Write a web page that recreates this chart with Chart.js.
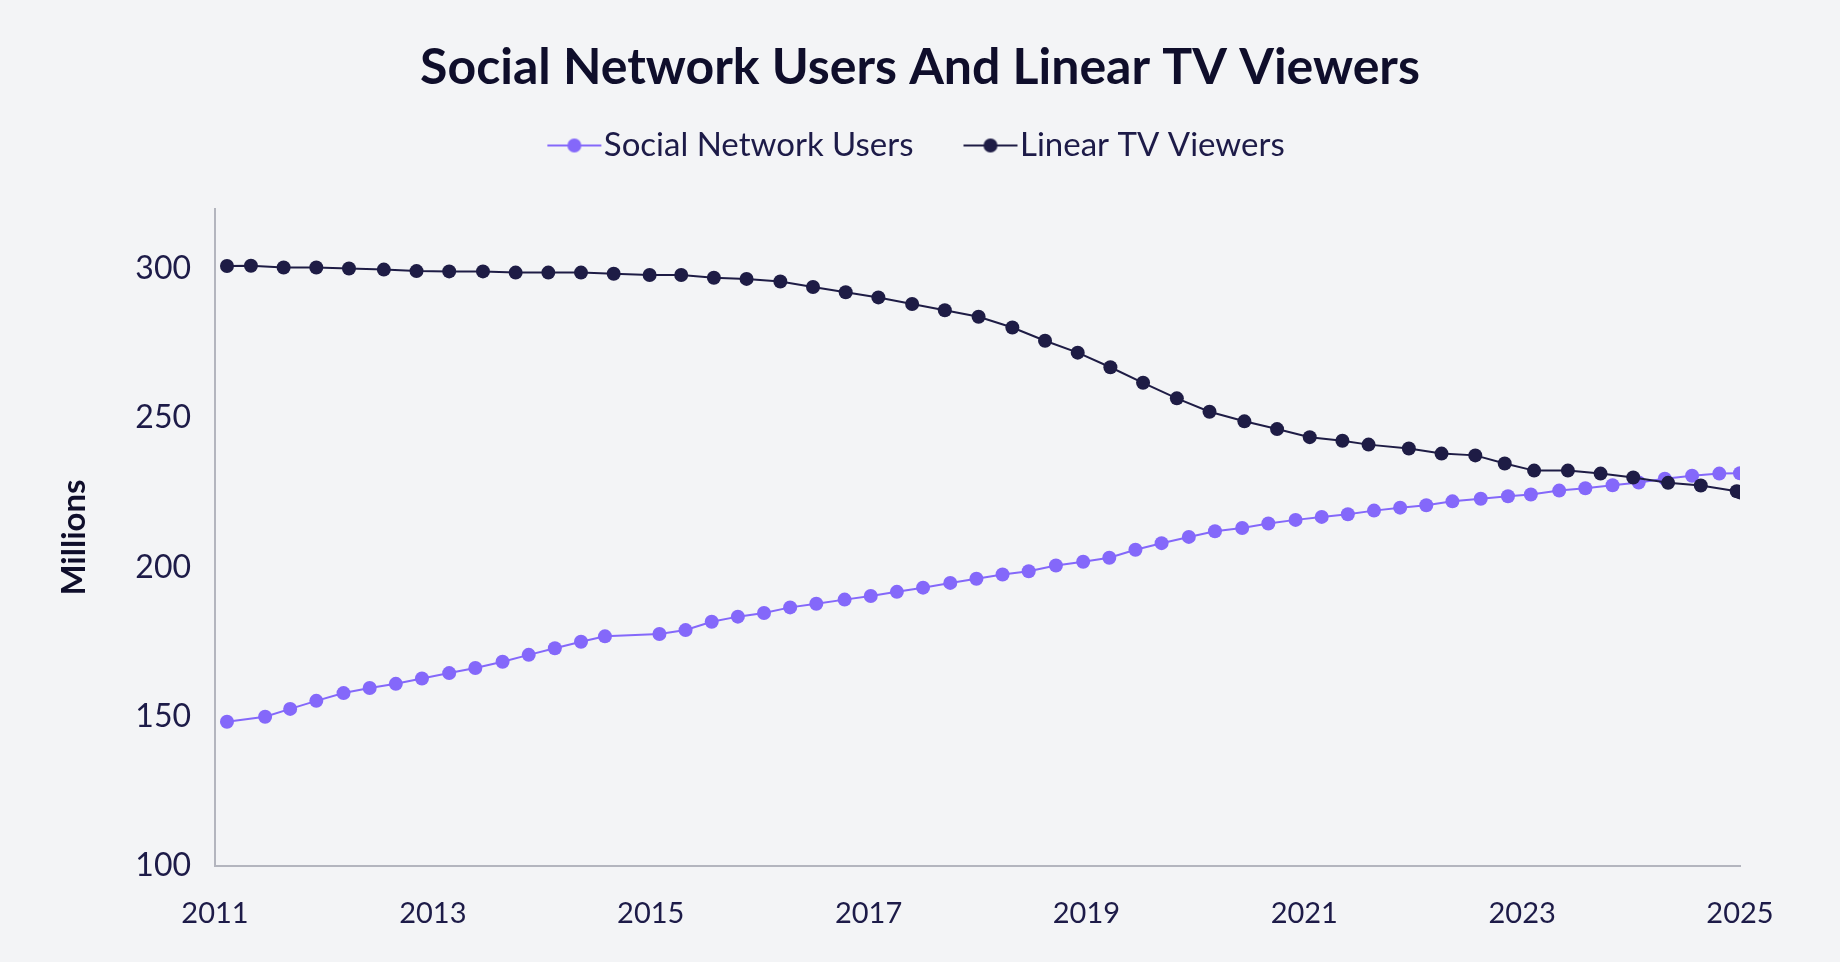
<!DOCTYPE html>
<html>
<head>
<meta charset="utf-8">
<script src="https://cdn.jsdelivr.net/npm/chart.js@4.4.0/dist/chart.umd.min.js"></script>
<style>
  html, body { margin: 0; padding: 0; background: #f3f4f6; }
  #wrap { width: 1840px; height: 962px; }
</style>
</head>
<body>
<div id="wrap"><canvas id="line-chart" width="1840" height="962"></canvas></div>
<script>
// values (decimal years, millions)
const socialYears = [2011.11, 2011.46, 2011.69, 2011.93, 2012.18, 2012.42, 2012.66, 2012.90, 2013.15, 2013.39,
  2013.64, 2013.88, 2014.12, 2014.36, 2014.58, 2015.08, 2015.32, 2015.56, 2015.80, 2016.04,
  2016.28, 2016.52, 2016.78, 2017.02, 2017.26, 2017.50, 2017.75, 2017.99, 2018.23, 2018.47,
  2018.72, 2018.97, 2019.21, 2019.45, 2019.69, 2019.94, 2020.18, 2020.43, 2020.67, 2020.92,
  2021.16, 2021.40, 2021.64, 2021.88, 2022.12, 2022.36, 2022.62, 2022.87, 2023.08, 2023.34,
  2023.58, 2023.83, 2024.07, 2024.31, 2024.56, 2024.81, 2025.0];
const socialValues = [148.3, 150.0, 152.6, 155.3, 157.9, 159.6, 161.0, 162.8, 164.6, 166.3,
  168.4, 170.7, 172.9, 175.1, 176.9, 177.7, 179.0, 181.8, 183.5, 184.7,
  186.6, 187.8, 189.2, 190.4, 191.8, 193.2, 194.8, 196.2, 197.6, 198.7,
  200.6, 201.9, 203.2, 205.9, 208.1, 210.2, 212.1, 213.2, 214.7, 215.9,
  216.9, 217.8, 219.0, 220.0, 220.8, 222.1, 223.0, 223.8, 224.4, 225.7,
  226.5, 227.5, 228.4, 229.7, 230.7, 231.4, 231.5];

const tvYears = [2011.11, 2011.33, 2011.63, 2011.93, 2012.23, 2012.55, 2012.85, 2013.15, 2013.46, 2013.76,
  2014.06, 2014.36, 2014.66, 2014.99, 2015.28, 2015.58, 2015.88, 2016.19, 2016.49, 2016.79,
  2017.09, 2017.40, 2017.70, 2018.01, 2018.32, 2018.62, 2018.92, 2019.22, 2019.52, 2019.83,
  2020.13, 2020.45, 2020.75, 2021.05, 2021.35, 2021.59, 2021.96, 2022.26, 2022.57, 2022.84,
  2023.11, 2023.42, 2023.72, 2024.02, 2024.34, 2024.64, 2024.97, 2025.0];
const tvValues = [300.9, 301.0, 300.4, 300.4, 300.1, 299.7, 299.2, 299.1, 299.1, 298.7,
  298.7, 298.7, 298.3, 297.9, 297.9, 297.0, 296.6, 295.7, 293.9, 292.1,
  290.4, 288.2, 286.1, 283.9, 280.3, 275.9, 271.9, 267.0, 261.8, 256.6,
  252.1, 248.9, 246.3, 243.6, 242.4, 241.1, 239.8, 238.1, 237.5, 234.8,
  232.4, 232.4, 231.4, 230.1, 228.3, 227.4, 225.5, 225.1];

const xTicks = [2011, 2013, 2015, 2017, 2019, 2021, 2023, 2025];
const yTicks = [100, 150, 200, 250, 300];

const PURPLE = '#8468fa';
const NAVY = '#1e1c45';
const TEXT = '#1d1b48';
const AXIS = '#b3b5be';

Chart.defaults.font.family = 'Lato';
Chart.defaults.color = TEXT;

// legend marker: short line with a dot, like the reference
function legendMarker(color) {
  const c = document.createElement('canvas');
  c.width = 62;
  c.height = 18;
  const g = c.getContext('2d');
  g.strokeStyle = color;
  g.lineWidth = 2;
  g.beginPath();
  g.moveTo(7, 9);
  g.lineTo(61, 9);
  g.stroke();
  g.fillStyle = color;
  g.beginPath();
  g.arc(34, 9, 7, 0, Math.PI * 2);
  g.fill();
  return c;
}
const markers = [legendMarker(PURPLE), legendMarker(NAVY)];

const toPoints = (xs, ys) => xs.map((x, i) => ({x: x, y: ys[i]}));

const bg = {
  id: 'bg',
  beforeDraw(chart) {
    const ctx = chart.ctx;
    ctx.save();
    ctx.fillStyle = '#f3f4f6';
    ctx.fillRect(0, 0, chart.width, chart.height);
    ctx.restore();
  },
};

const config = {
  type: 'line',
  data: {
    datasets: [
      {
        label: 'Social Network Users',
        data: toPoints(socialYears, socialValues),
        borderColor: PURPLE,
        backgroundColor: PURPLE,
        borderWidth: 2,
        pointRadius: 7,
        pointBorderWidth: 0,
        tension: 0,
        order: 1,
      },
      {
        label: 'Linear TV Viewers',
        data: toPoints(tvYears, tvValues),
        borderColor: NAVY,
        backgroundColor: NAVY,
        borderWidth: 2,
        pointRadius: 7,
        pointBorderWidth: 0,
        tension: 0,
        order: 0,
      },
    ],
  },
  options: {
    responsive: false,
    animation: false,
    layout: {
      padding: {left: 50, right: 50, top: 0, bottom: 0},
    },
    plugins: {
      title: {
        display: true,
        text: 'Social Network Users And Linear TV Viewers',
        color: '#0f0e2b',
        font: {size: 50, weight: 'bold'},
        // negative bottom lets the legend padding (also its item gap) be wide
        padding: {top: 38, bottom: -27},
      },
      legend: {
        labels: {
          usePointStyle: true,
          pointStyleWidth: 32,
          padding: 58,
          color: TEXT,
          font: {size: 33},
          generateLabels: function(chart) {
            const items = Chart.defaults.plugins.legend.labels.generateLabels(chart);
            items.forEach((it) => { it.pointStyle = markers[it.datasetIndex]; });
            return items.sort((a, b) => a.datasetIndex - b.datasetIndex);
          },
        },
      },
      tooltip: {enabled: false},
    },
    scales: {
      x: {
        type: 'linear',
        min: xTicks[0],
        max: xTicks[xTicks.length - 1],
        grid: {display: false, drawTicks: false},
        border: {display: true, color: AXIS, width: 2},
        ticks: {
          stepSize: 2,
          autoSkip: false,
          maxRotation: 0,
          padding: 30,
          color: TEXT,
          font: {size: 29},
          callback: (v) => (xTicks.includes(v) ? String(v) : ''),
        },
        afterFit: (scale) => { scale.height = 96; },
      },
      y: {
        min: yTicks[0],
        max: 320,
        grid: {display: false, drawTicks: false},
        border: {display: true, color: AXIS, width: 2},
        ticks: {
          stepSize: 50,
          includeBounds: false,
          padding: 24,
          color: TEXT,
          font: {size: 32},
          callback: (v) => (yTicks.includes(v) ? String(v) : ''),
        },
        title: {
          display: true,
          text: 'Millions',
          color: '#0f0e2b',
          font: {size: 33, weight: 'bold'},
          padding: {top: 5, bottom: 0},
        },
        afterFit: (scale) => { scale.width = 165; },
      },
      // spacers so the plot sits where it does in the reference
      xTop: {
        type: 'linear',
        position: 'top',
        grid: {display: false, drawTicks: false},
        border: {display: false},
        ticks: {display: false},
        afterFit: (scale) => { scale.height = 37; },
      },
      yRight: {
        type: 'linear',
        position: 'right',
        grid: {display: false, drawTicks: false},
        border: {display: false},
        ticks: {display: false},
        afterFit: (scale) => { scale.width = 50; },
      },
    },
  },
  plugins: [bg],
};

const myChart = new Chart(document.getElementById('line-chart'), config);
</script>
</body>
</html>
